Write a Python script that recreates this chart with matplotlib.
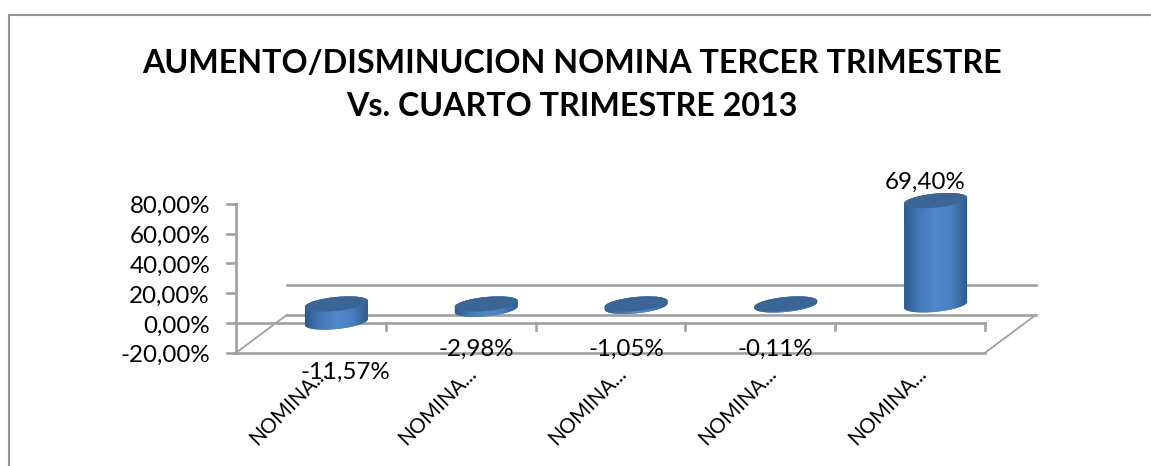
#!/usr/bin/python3
import matplotlib
matplotlib.use('Agg')
import matplotlib.pyplot as plt
import numpy as np
from matplotlib.lines import Line2D
from matplotlib.patches import Polygon
from matplotlib.colors import LinearSegmentedColormap

plt.rcParams['font.family'] = ['Lato', 'DejaVu Sans']

categories = ['NOMINA...', 'NOMINA...', 'NOMINA...', 'NOMINA...', 'NOMINA...']
values = [-11.57, -2.98, -1.05, -0.11, 69.40]
value_labels = ['-11,57%', '-2,98%', '-1,05%', '-0,11%', '69,40%']
y_ticks = [-20, 0, 20, 40, 60, 80]
y_tick_labels = ['-20,00%', '0,00%', '20,00%', '40,00%', '60,00%', '80,00%']
title = 'AUMENTO/DISMINUCION NOMINA TERCER TRIMESTRE\nVs. CUARTO TRIMESTRE 2013'

W, H = 1151, 466
x0_px, cat_px = 236, 149.8   # left of the plot, width of a category
y0_px, pct_px = 323, 1.49    # pixel row of 0%, pixels per percent
grey = '#a0a0a0'

fig = plt.figure(figsize=(W/100, H/100), dpi=100)
ax = fig.add_axes([0, 0, 1, 1])
ax.axis('off')

# depth of the 3d box, in data units
dep_x = 51/cat_px
dep_y = 38/pct_px
n = len(values)
ymin, ymax = y_ticks[0], y_ticks[-1]

# floor and back lines
ax.plot([0, n], [ymin, ymin], color=grey, lw=1.9)
ax.plot([dep_x, n+dep_x], [ymin+dep_y, ymin+dep_y], color=grey, lw=1.9)
ax.plot([0, dep_x], [ymin, ymin+dep_y], color=grey, lw=1.3)
ax.plot([n, n+dep_x], [ymin, ymin+dep_y], color=grey, lw=1.3)
ax.plot([dep_x, n+dep_x], [dep_y, dep_y], color=grey, lw=1.9)

# value axis
ax.plot([0, 0], [ymin, ymax], color=grey, lw=1.9)
for t, lab in zip(y_ticks, y_tick_labels):
    ax.plot([-9/cat_px, 0], [t, t], color=grey, lw=1.9)
    ax.annotate(lab, (0, t), xytext=(-26, -3), textcoords='offset pixels',
                ha='right', va='center', fontsize=17.4, color='black')

# category axis at zero
ax.plot([0, n], [0, 0], color=grey, lw=1.9)
for i in range(1, n+1):
    ax.plot([i, i], [0, -7/pct_px], color=grey, lw=1.9)

# cylinders
side_cmap = LinearSegmentedColormap.from_list('side', ['#2f5a8e', '#447ab8', '#5388ca', '#4a80c0', '#2f5a8e'])
grad = np.linspace(0, 1, 128).reshape(1, -1)
a = 31.5/cat_px
b = 7/pct_px
k = 3/pct_px
t = np.linspace(0, 2*np.pi, 121)


def ell(cx, cy):
    return np.column_stack([cx+a*np.cos(t), cy+b*np.sin(t)+k*np.cos(t)])


for i, v in enumerate(values):
    cx = i+0.5+dep_x/2
    base = dep_y/2
    top = base+max(v, 0)
    bot = base+min(v, 0)
    lower = ell(cx, bot-0.8/pct_px)
    upper = ell(cx, top)
    # outline of the body: upper half of top, lower half of bottom
    half = t <= np.pi
    body = Polygon(np.vstack([upper[half], lower[~half]]), closed=True,
                   fc='#447ab8', ec='none', zorder=3)
    ax.add_patch(body)
    im = ax.imshow(grad, cmap=side_cmap, aspect='auto', zorder=3.1,
                   extent=[cx-a, cx+a, bot-20, top+20])
    im.set_clip_path(body)
    ax.add_patch(Polygon(upper, closed=True, fc='#3b6594', ec='none', zorder=4))

ax.set_xlim(-x0_px/cat_px, (W-x0_px)/cat_px)
ax.set_ylim((y0_px-H)/pct_px, y0_px/pct_px)

# data labels, pixel offsets from the top of each cylinder
label_off = [(9, -68), (-10, -45), (-10, -45), (-10, -45), (-10, 18)]
for i, v in enumerate(values):
    ax.annotate(value_labels[i], (i+0.5+dep_x/2, dep_y/2+max(v, 0)),
                xytext=label_off[i], textcoords='offset pixels',
                ha='center', va='center', fontsize=17.4, color='black', zorder=6)

# category labels
for i, c in enumerate(categories):
    ax.annotate(c, (i+0.5, ymin), xytext=(13, -18), textcoords='offset pixels',
                rotation=45, rotation_mode='anchor', ha='right', va='center',
                fontsize=14.8, color='black', zorder=5)

fig.text(572/W, 1-85/H, title, ha='center', va='center', fontsize=23.2,
         fontweight='bold', color='black', linespacing=1.62)

# chart frame, open on the right
for xs, ys in [((8.5, 8.5), (H, 15)), ((8.5, W), (15, 15))]:
    fig.add_artist(Line2D([x/W for x in xs], [1-y/H for y in ys], color='#959595', lw=1.5))

fig.savefig('out.png', dpi=100)
